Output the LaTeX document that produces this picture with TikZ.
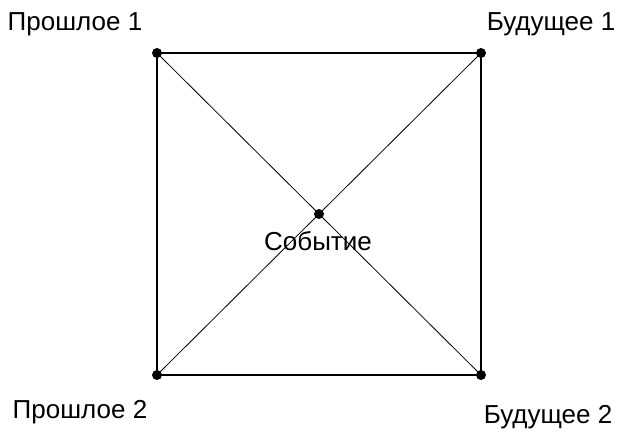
\documentclass[tikz,border=0pt]{standalone}
\usepackage{fontspec}
\setmainfont{Liberation Sans}
\begin{document}
\begin{tikzpicture}[x=1pt,y=-1pt,
  pt/.style={circle,fill=black,inner sep=0pt,minimum size=10pt},
  lbl/.style={font=\fontsize{26}{31}\selectfont,inner sep=0pt,anchor=base},
  edge/.style={line width=2pt},
  diag/.style={line width=0.8pt}]
\useasboundingbox (0,0) rectangle (619,432);
\coordinate (p1) at (157,53);
\coordinate (f1) at (481,53);
\coordinate (p2) at (157,375);
\coordinate (f2) at (481,375);
\coordinate (ev) at (319,214);
\draw[diag] (p1) -- (f2);
\draw[diag] (p2) -- (f1);
\draw[edge] (p1) -- (f1) -- (f2) -- (p2) -- cycle;
\node[pt] (n1) at (p1) {};
\node[pt] (n2) at (f1) {};
\node[pt] (n3) at (p2) {};
\node[pt] (n4) at (f2) {};
\node[pt] (n5) at (ev) {};
\node[lbl] (t1) at (75,30) {Прошлое 1};
\node[lbl] (t2) at (551,30) {Будущее 1};
\node[lbl] (t3) at (80,418) {Прошлое 2};
\node[lbl] (t4) at (548,423) {Будущее 2};
\node[lbl] (t5) at (318,250) {Событие};
\end{tikzpicture}
\end{document}
